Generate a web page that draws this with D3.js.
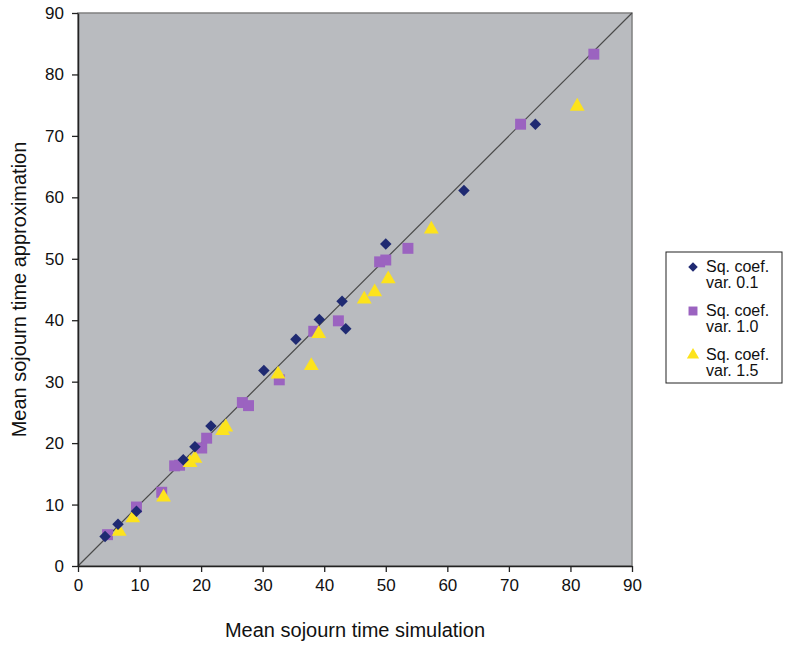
<!DOCTYPE html>
<html>
<head>
<meta charset="utf-8">
<script src="https://d3js.org/d3.v7.min.js"></script>
</head>
<body style="margin:0; background:#fff;">
<svg width="793" height="646"></svg>
<script>
// values: [simulation, approximation]
var series_01 = [[4.4,4.8],[6.5,6.8],[9.5,8.9],[17.1,17.3],[19.0,19.4],[21.6,22.8],[30.2,31.8],[35.4,36.9],
                 [39.2,40.1],[42.9,43.1],[43.5,38.6],[50.0,52.4],[62.7,61.1],[74.3,71.9]];
var series_10 = [[4.8,5.1],[9.5,9.6],[13.6,12.0],[15.7,16.3],[16.5,16.4],[20.1,19.2],[20.9,20.8],[26.7,26.6],
                 [27.7,26.1],[32.7,30.3],[38.3,38.2],[42.3,39.9],[49.0,49.5],[50.0,49.8],[53.6,51.7],
                 [71.9,71.9],[83.8,83.3]];
var series_15 = [[6.7,5.6],[8.9,7.8],[13.9,11.2],[18.2,16.8],[19.0,17.5],[23.5,22.0],[24.0,22.6],[32.5,31.2],
                 [37.9,32.6],[39.1,37.8],[46.5,43.4],[48.2,44.6],[50.4,46.7],[57.4,54.8],[81.1,74.8]];
var ticks = [0,10,20,30,40,50,60,70,80,90];
var legend_labels = [["Sq. coef.","var. 0.1"],["Sq. coef.","var. 1.0"],["Sq. coef.","var. 1.5"]];

var plotLeft = 78, plotTop = 13, plotRight = 632, plotBottom = 566;
var font = "'Liberation Sans', Arial, sans-serif";

var svg = d3.select("svg");
var x = d3.scaleLinear().domain([0,90]).range([plotLeft,plotRight]);
var y = d3.scaleLinear().domain([0,90]).range([plotBottom,plotTop]);

// plot background
svg.append("rect")
  .attr("x", plotLeft).attr("y", plotTop)
  .attr("width", plotRight-plotLeft).attr("height", plotBottom-plotTop)
  .style("fill", "#b9bbbf")
  .style("stroke", "#808080").style("stroke-width", 1.5);

// diagonal y = x
svg.append("line")
  .attr("x1", x(0)).attr("y1", y(0)).attr("x2", x(90)).attr("y2", y(90))
  .style("stroke", "#4a4a4a").style("stroke-width", 1.2);

// axes
var xAxis = svg.append("g").attr("transform", "translate(0," + plotBottom + ")")
  .call(d3.axisBottom(x).tickValues(ticks).tickSize(6).tickPadding(7).tickSizeOuter(0));
var yAxis = svg.append("g").attr("transform", "translate(" + plotLeft + ",0)")
  .call(d3.axisLeft(y).tickValues(ticks).tickSize(6).tickPadding(8).tickSizeOuter(0));
[xAxis, yAxis].forEach(function(a) {
  a.select(".domain").style("stroke", "#222").style("stroke-width", 1.5);
  a.selectAll(".tick line").style("stroke", "#222").style("stroke-width", 1.3);
  a.selectAll("text").style("font-family", font).style("font-size", "17px").style("fill", "#111");
});

// axis titles
svg.append("text")
  .attr("x", 355).attr("y", 637)
  .attr("text-anchor", "middle")
  .style("font-family", font).style("font-size", "20px").style("fill", "#111")
  .text("Mean sojourn time simulation");
svg.append("text")
  .attr("transform", "translate(26," + (plotTop+plotBottom)/2 + ") rotate(-90)")
  .attr("text-anchor", "middle")
  .style("font-family", font).style("font-size", "20px").style("fill", "#111")
  .text("Mean sojourn time approximation");

var diamond = d3.symbol().type(d3.symbolSquare).size(66);
var square = d3.symbol().type(d3.symbolSquare).size(120);
var triangle = d3.symbol().type(d3.symbolTriangle).size(95);

var styles = [
  { data: series_01, path: diamond, rot: 45, fill: "#1f2a72" },
  { data: series_10, path: square, rot: 0, fill: "#9b63c0" },
  { data: series_15, path: triangle, rot: 0, fill: "#fde31c" }
];

// squares first, then triangles, diamonds on top
[1,2,0].forEach(function(k) {
  var s = styles[k];
  svg.append("g").selectAll("path")
    .data(s.data)
    .enter()
    .append("path")
      .attr("d", s.path)
      .attr("transform", function(d) { return "translate(" + x(d[0]) + "," + y(d[1]) + ") rotate(" + s.rot + ")"; })
      .style("fill", s.fill);
});

// legend
var leg = svg.append("g");
leg.append("rect")
  .attr("x", 666).attr("y", 252).attr("width", 116).attr("height", 131)
  .style("fill", "#fff").style("stroke", "#222").style("stroke-width", 1);
var legSyms = [
  d3.symbol().type(d3.symbolSquare).size(45),
  d3.symbol().type(d3.symbolSquare).size(80),
  d3.symbol().type(d3.symbolTriangle).size(65)
];
legend_labels.forEach(function(lab, i) {
  var cy = 267 + i * 44;
  leg.append("path")
    .attr("d", legSyms[i])
    .attr("transform", "translate(693," + cy + ") rotate(" + styles[i].rot + ")")
    .style("fill", styles[i].fill);
  leg.append("text")
    .attr("x", 706).attr("y", cy + 5)
    .style("font-family", font).style("font-size", "16px").style("fill", "#111")
    .text(lab[0]);
  leg.append("text")
    .attr("x", 706).attr("y", cy + 21)
    .style("font-family", font).style("font-size", "16px").style("fill", "#111")
    .text(lab[1]);
});
</script>
</body>
</html>
